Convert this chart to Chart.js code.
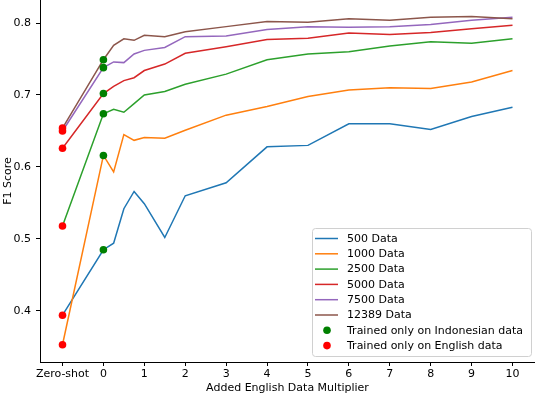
<!DOCTYPE html>
<html>
<head>
<meta charset="utf-8">
<script src="https://cdn.jsdelivr.net/npm/chart.js@4/dist/chart.umd.min.js"></script>
<style>
  html, body { margin: 0; padding: 0; background: #fff; }
</style>
</head>
<body>
<canvas id="f1Chart" width="535" height="394"></canvas>
<script>
// x positions: -1 stands for the zero-shot run
const multipliers = [-1, 0, 0.25, 0.5, 0.75, 1, 1.5, 2, 3, 4, 5, 6, 7, 8, 9, 10];
const xTicks = [-1, 0, 1, 2, 3, 4, 5, 6, 7, 8, 9, 10];
const yTicks = [0.4, 0.5, 0.6, 0.7, 0.8];

const seriesLabels = ['500 Data', '1000 Data', '2500 Data', '5000 Data', '7500 Data', '12389 Data'];
const data500   = [0.394, 0.485, 0.494, 0.542, 0.566, 0.549, 0.502, 0.560, 0.578, 0.628, 0.630, 0.660, 0.660, 0.652, 0.670, 0.683];
const data1000  = [0.353, 0.616, 0.593, 0.645, 0.637, 0.641, 0.640, 0.651, 0.672, 0.684, 0.698, 0.707, 0.710, 0.709, 0.718, 0.734];
const data2500  = [0.518, 0.674, 0.680, 0.676, 0.688, 0.700, 0.705, 0.715, 0.729, 0.749, 0.757, 0.760, 0.768, 0.774, 0.772, 0.778];
const data5000  = [0.626, 0.702, 0.712, 0.720, 0.724, 0.734, 0.743, 0.758, 0.767, 0.777, 0.779, 0.786, 0.784, 0.787, 0.792, 0.797];
const data7500  = [0.650, 0.738, 0.746, 0.745, 0.757, 0.762, 0.766, 0.781, 0.782, 0.791, 0.795, 0.794, 0.795, 0.798, 0.804, 0.808];
const data12389 = [0.654, 0.749, 0.769, 0.778, 0.776, 0.783, 0.781, 0.788, 0.795, 0.802, 0.801, 0.806, 0.804, 0.808, 0.809, 0.806];
const allSeries = [data500, data1000, data2500, data5000, data7500, data12389];
const colors = ['#1f77b4', '#ff7f0e', '#2ca02c', '#d62728', '#9467bd', '#8c564b'];

const indoLabel = 'Trained only on Indonesian data';
const engLabel = 'Trained only on English data';

let datasets = [];
allSeries.forEach((s, i) => {
    datasets.push({
        label: seriesLabels[i],
        data: multipliers.map((x, j) => ({x: x, y: s[j]})),
        borderColor: colors[i],
        backgroundColor: colors[i],
        borderWidth: 1.5,
        pointRadius: 0,
        tension: 0,
        order: 20 - i,
        legendKind: 'line'
    });
});
// dots: each series at 0 (Indonesian only) and at zero-shot (English only)
datasets.push({
    label: indoLabel,
    data: allSeries.map(s => ({x: 0, y: s[1]})),
    showLine: false,
    pointRadius: 3.8,
    pointBorderWidth: 0,
    pointBackgroundColor: 'green',
    borderColor: 'green',
    backgroundColor: 'green',
    order: 2,
    legendKind: 'dot'
});
datasets.push({
    label: engLabel,
    data: allSeries.map(s => ({x: -1, y: s[0]})),
    showLine: false,
    pointRadius: 3.8,
    pointBorderWidth: 0,
    pointBackgroundColor: 'red',
    borderColor: 'red',
    backgroundColor: 'red',
    order: 1,
    legendKind: 'dot'
});

const FONT = 'DejaVu Sans';
const FSIZE = 11;

// legend box drawn inside the plot, lower right
const boxLegend = {
    id: 'boxLegend',
    afterDraw(chart) {
        const ctx = chart.ctx;
        const area = chart.chartArea;
        const w = 219, h = 128;
        const x0 = area.right - w - 4, y0 = area.bottom - h - 6;
        ctx.save();
        ctx.beginPath();
        ctx.roundRect(x0 + 0.5, y0 + 0.5, w, h, 3);
        ctx.fillStyle = 'rgba(255,255,255,0.85)';
        ctx.fill();
        ctx.strokeStyle = '#d0d0d0';
        ctx.lineWidth = 1;
        ctx.stroke();
        ctx.font = FSIZE + 'px "' + FONT + '"';
        ctx.textBaseline = 'middle';
        chart.data.datasets.forEach((ds, i) => {
            const y = y0 + 10.5 + i * 15.3;
            if (ds.legendKind === 'line') {
                ctx.strokeStyle = ds.borderColor;
                ctx.lineWidth = 1.5;
                ctx.beginPath();
                ctx.moveTo(x0 + 3, y);
                ctx.lineTo(x0 + 26, y);
                ctx.stroke();
            } else {
                ctx.fillStyle = ds.pointBackgroundColor;
                ctx.beginPath();
                ctx.arc(x0 + 15, y, 3.8, 0, Math.PI * 2);
                ctx.fill();
            }
            ctx.fillStyle = '#000';
            ctx.fillText(ds.label, x0 + 35, y + 0.5);
        });
        ctx.restore();
    }
};

new Chart(document.getElementById('f1Chart'), {
    type: 'line',
    data: { datasets: datasets },
    options: {
        responsive: false,
        animation: false,
        devicePixelRatio: 1,
        layout: { autoPadding: false, padding: { left: 0, right: 0, top: 0, bottom: 0 } },
        plugins: {
            legend: { display: false },
            tooltip: { enabled: false }
        },
        scales: {
            x: {
                type: 'linear',
                min: -1.55,
                max: 10.55,
                afterBuildTicks: (scale) => { scale.ticks = xTicks.map(v => ({value: v})); },
                afterFit: (scale) => {
                    scale.height = 32;
                    scale.paddingLeft = 0;
                    scale.paddingRight = 0;
                },
                ticks: {
                    autoSkip: false,
                    maxRotation: 0,
                    padding: 2,
                    color: '#000',
                    font: { family: FONT, size: FSIZE },
                    callback: (v) => v === -1 ? 'Zero-shot' : String(v)
                },
                grid: { drawOnChartArea: false, drawTicks: true, tickLength: 4, color: '#000' },
                border: { display: true, color: '#000', width: 1 },
                title: {
                    display: true,
                    text: 'Added English Data Multiplier',
                    color: '#000',
                    font: { family: FONT, size: FSIZE },
                    padding: { top: 0, bottom: -1 }
                }
            },
            y: {
                min: 0.329,
                max: 0.832,
                afterBuildTicks: (scale) => { scale.ticks = yTicks.map(v => ({value: v})); },
                afterFit: (scale) => {
                    scale.width = 40;
                    scale.paddingTop = 0;
                    scale.paddingBottom = 0;
                },
                ticks: {
                    padding: 5,
                    color: '#000',
                    font: { family: FONT, size: FSIZE },
                    callback: (v) => v.toFixed(1)
                },
                grid: { drawOnChartArea: false, drawTicks: true, tickLength: 4, color: '#000' },
                border: { display: true, color: '#000', width: 1 },
                title: {
                    display: true,
                    text: 'F1 Score',
                    color: '#000',
                    font: { family: FONT, size: FSIZE },
                    padding: { top: 2, bottom: 0 }
                }
            }
        }
    },
    plugins: [boxLegend]
});
</script>
</body>
</html>
